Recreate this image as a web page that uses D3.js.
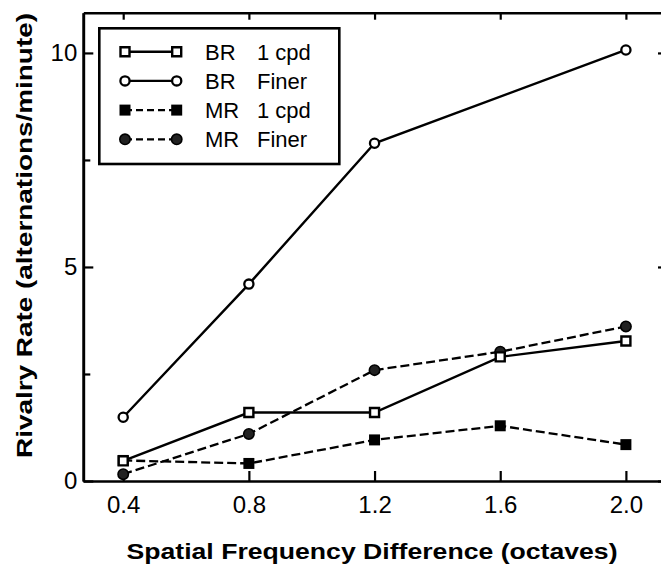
<!DOCTYPE html>
<html>
<head>
<meta charset="utf-8">
<script src="https://cdn.jsdelivr.net/npm/d3@7"></script>
<style>
  body { margin: 0; background: #fff; }
  svg { display: block; font-family: "Liberation Sans", Arial, sans-serif; }
</style>
</head>
<body>
<svg id="chart" width="661" height="566"></svg>
<script>
(function() {
    'use strict';

    // data
    var xValues = [0.4, 0.8, 1.2, 1.6, 2.0];
    var br1cpd = [0.47, 1.60, 1.60, 2.90, 3.27];
    var brFiner = [1.49, 4.60, 7.89, null, 10.07];
    var mr1cpd = [0.48, 0.41, 0.96, 1.29, 0.85];
    var mrFiner = [0.16, 1.10, 2.59, 3.02, 3.61];
    var groupLabels = ['BR', 'BR', 'MR', 'MR'];
    var condLabels = ['1 cpd', 'Finer', '1 cpd', 'Finer'];
    var xTicks = [0.4, 0.8, 1.2, 1.6, 2.0];
    var yMajor = [0, 5, 10];
    var yMinor = [2.5, 7.5];

    var svg = d3.select('#chart');

    var x = d3.scaleLinear().domain([0.273, 2.134]).range([83.3, 668]);
    var y = d3.scaleLinear().domain([0, 10.94]).range([481, 12.7]);

    var series = [
        {values: br1cpd, marker: 'openSquare', dashed: false},
        {values: brFiner, marker: 'openCircle', dashed: false},
        {values: mr1cpd, marker: 'filledSquare', dashed: true},
        {values: mrFiner, marker: 'filledCircle', dashed: true}
    ];
    series.forEach(function(s, i) {
        s.group = groupLabels[i];
        s.cond = condLabels[i];
        s.points = xValues.map(function(xv, j) {
            return {x: xv, y: s.values[j]};
        }).filter(function(p) { return p.y !== null; });
    });

    function drawMarker(sel, type) {
        if (type === 'openSquare') {
            sel.attr('d', d3.symbol(d3.symbolSquare, 81))
                .attr('fill', '#fff').attr('stroke', '#000').attr('stroke-width', 2.4);
        } else if (type === 'openCircle') {
            sel.attr('d', d3.symbol(d3.symbolCircle, Math.PI * 4.6 * 4.6))
                .attr('fill', '#fff').attr('stroke', '#000').attr('stroke-width', 2.3);
        } else if (type === 'filledSquare') {
            sel.attr('d', d3.symbol(d3.symbolSquare, 121))
                .attr('fill', '#000');
        } else {
            sel.attr('d', d3.symbol(d3.symbolCircle, Math.PI * 5.2 * 5.2))
                .attr('fill', '#222').attr('stroke', '#000').attr('stroke-width', 1.6);
        }
    }

    //axes
    function styleAxis(g) {
        g.select('.domain').attr('stroke', '#000').attr('stroke-width', 2.6);
        g.selectAll('.tick line').attr('stroke', '#000').attr('stroke-width', 2.2);
        g.selectAll('.tick text').attr('fill', '#000')
            .style('font-family', '"Liberation Sans", Arial, sans-serif')
            .style('font-size', '24px');
    }

    svg.append('g')
        .attr('transform', 'translate(0,' + y(0) + ')')
        .call(d3.axisBottom(x).tickValues(xTicks).tickFormat(d3.format('.1f'))
            .tickSizeInner(-10).tickSizeOuter(0).tickPadding(15))
        .call(styleAxis);

    svg.append('g')
        .attr('transform', 'translate(0,' + y.range()[1] + ')')
        .call(d3.axisTop(x).tickValues(xTicks).tickFormat('')
            .tickSizeInner(-7).tickSizeOuter(0))
        .call(styleAxis);

    svg.append('g')
        .attr('transform', 'translate(' + x.range()[0] + ',0)')
        .call(d3.axisLeft(y).tickValues(yMajor).tickFormat(d3.format('d'))
            .tickSizeInner(-10).tickSizeOuter(0).tickPadding(6))
        .call(styleAxis);

    svg.append('g')
        .attr('transform', 'translate(' + x.range()[0] + ',0)')
        .call(d3.axisLeft(y).tickValues(yMinor).tickFormat('')
            .tickSizeInner(-7).tickSizeOuter(0))
        .call(styleAxis);

    svg.append('g')
        .attr('transform', 'translate(' + x.range()[1] + ',0)')
        .call(d3.axisRight(y).tickValues(yMajor).tickFormat('')
            .tickSizeInner(-10).tickSizeOuter(0))
        .call(styleAxis);

    //lines
    var line = d3.line()
        .x(function(d) { return x(d.x); })
        .y(function(d) { return y(d.y); });

    var drawOrder = [3, 2, 1, 0];

    svg.append('g').selectAll('path')
        .data(drawOrder.map(function(i) { return series[i]; }))
        .enter().append('path')
        .attr('d', function(d) { return line(d.points); })
        .attr('fill', 'none')
        .attr('stroke', '#000')
        .attr('stroke-width', function(d) { return d.dashed ? 2.3 : 2.4; })
        .attr('stroke-dasharray', function(d) { return d.dashed ? '9,4' : null; });

    //markers
    drawOrder.forEach(function(i) {
        var s = series[i];
        svg.append('g').selectAll('path')
            .data(s.points)
            .enter().append('path')
            .attr('transform', function(d) {
                return 'translate(' + x(d.x) + ',' + y(d.y) + ')';
            })
            .call(drawMarker, s.marker);
    });

    //legend
    var legend = svg.append('g');
    legend.append('rect')
        .attr('x', 99.3).attr('y', 28.3)
        .attr('width', 240).attr('height', 135.7)
        .attr('fill', '#fff').attr('stroke', '#000').attr('stroke-width', 2.6);

    var rows = legend.selectAll('g.row')
        .data(series)
        .enter().append('g')
        .attr('class', 'row')
        .attr('transform', function(d, i) {
            return 'translate(0,' + (51.7 + i * 29.2) + ')';
        });

    rows.append('line')
        .attr('x1', 125).attr('x2', 176.7)
        .attr('stroke', '#000')
        .attr('stroke-width', function(d) { return d.dashed ? 2.3 : 2.4; })
        .attr('stroke-dasharray', function(d) { return d.dashed ? '7,4' : null; });

    rows.each(function(d) {
        var r = d3.select(this);
        [125, 176.7].forEach(function(px) {
            r.append('path')
                .attr('transform', 'translate(' + px + ',0)')
                .call(drawMarker, d.marker);
        });
    });

    rows.append('text')
        .attr('x', 205).attr('dy', '0.36em')
        .style('font-size', '22px')
        .text(function(d) { return d.group; });

    rows.append('text')
        .attr('x', 257).attr('dy', '0.36em')
        .style('font-size', '22px')
        .text(function(d) { return d.cond; });

    //axis titles
    svg.append('text')
        .attr('x', 372).attr('y', 559)
        .attr('text-anchor', 'middle')
        .attr('textLength', 491).attr('lengthAdjust', 'spacingAndGlyphs')
        .style('font-size', '22px').style('font-weight', 'bold')
        .text('Spatial Frequency Difference (octaves)');

    svg.append('text')
        .attr('transform', 'translate(31.7,235.5) rotate(-90)')
        .attr('text-anchor', 'middle')
        .attr('textLength', 445).attr('lengthAdjust', 'spacingAndGlyphs')
        .style('font-size', '22px').style('font-weight', 'bold')
        .text('Rivalry Rate (alternations/minute)');
})();
</script>
</body>
</html>
